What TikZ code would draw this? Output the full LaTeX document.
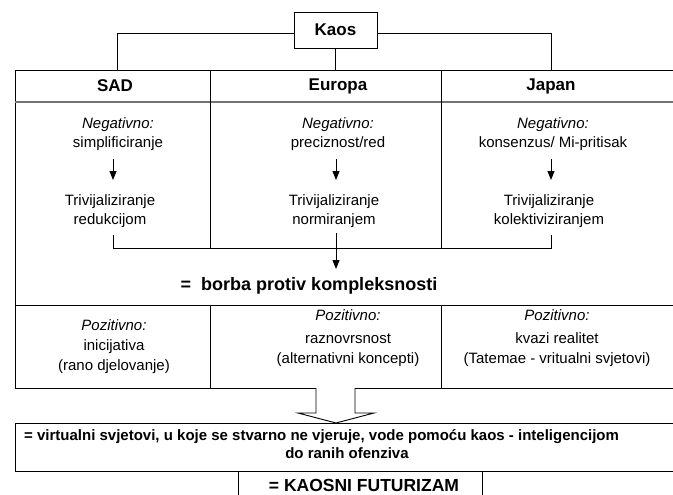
\documentclass[tikz,border=0pt]{standalone}
\usepackage{fontspec}
\setmainfont{Liberation Sans}
\usetikzlibrary{arrows.meta}
\begin{document}
\begin{tikzpicture}[x=1pt,y=-1pt,
  ln/.style={line width=0.9pt,draw=black},
  grayln/.style={line width=1.6pt,draw=black!55},
  arr/.style={line width=0.9pt,-{Triangle[length=9pt,width=7pt]}},
  txt/.style={inner sep=0pt,align=center,font=\fontsize{15}{18.5}\selectfont},
  ptxt/.style={inner sep=0pt,align=center,font=\fontsize{15}{20}\selectfont},
  hd/.style={inner sep=0pt,font=\fontsize{17}{20}\selectfont\bfseries},
  btxt/.style={inner sep=0pt,font=\fontsize{15}{18}\selectfont\bfseries},
  kbox/.style={draw,line width=0.9pt,inner sep=0pt,minimum width=83pt,minimum height=36pt,font=\fontsize{17}{20}\selectfont\bfseries}
]
\useasboundingbox (0,0) rectangle (673,495);
\fill[white] (0,0) rectangle (673,495);

% top node and connectors
\node[kbox] (kaos) at (335.5,30) {Kaos};
\coordinate (tl) at (117,33);
\coordinate (tr) at (551,33);
\coordinate (tT) at (0,70);
\draw[ln] (kaos.west |- tl) -- (tl) -- (tl |- tT);
\draw[ln] (kaos.east |- tr) -- (tr) -- (tr |- tT);
\draw[ln] (kaos.south) -- (kaos.south |- tT);

% table frame
\draw[ln] (15,70) -- (690,70);
\draw[ln] (15,70) -- (15,388) -- (690,388);
\draw[grayln] (15,102) -- (690,102);
\draw[ln] (15,305) -- (690,305);
\draw[ln] (210,70) -- (210,248);
\draw[ln] (441,70) -- (441,248);
\draw[ln] (210,305) -- (210,388);
\draw[ln] (441,305) -- (441,388);

% headers
\node[hd] (sad) at (115,86) {SAD};
\node[hd] (eur) at (338,86) {Europa};
\node[hd] (jap) at (551,86) {Japan};

% negative texts
\node[txt] (n1) at (118,134) {\textit{Negativno:}\\simplificiranje};
\node[txt] (n2) at (338,134) {\textit{Negativno:}\\preciznost/red};
\node[txt] (n3) at (553,134) {\textit{Negativno:}\\konsenzus/ Mi-pritisak};

\node[txt] (t1) at (110,211) {Trivijaliziranje\\redukcijom};
\node[txt] (t2) at (334,211) {Trivijaliziranje\\normiranjem};
\node[txt] (t3) at (549,211) {Trivijaliziranje\\kolektiviziranjem};

% small arrows
\coordinate (a1) at (113,159); \coordinate (b1) at (113,180);
\coordinate (a2) at (336,159); \coordinate (b2) at (336,180);
\coordinate (a3) at (551,159); \coordinate (b3) at (551,180);
\draw[arr] (a1) -- (b1);
\draw[arr] (a2) -- (b2);
\draw[arr] (a3) -- (b3);

% bracket and central arrow
\coordinate (k1) at (113,235);
\coordinate (k3) at (551,235);
\coordinate (kb) at (0,248);
\draw[ln] (k1) -- (k1 |- kb) -- (k3 |- kb) -- (k3);
\coordinate (c1) at (336,233);
\node[inner sep=0pt,font=\fontsize{18}{20}\selectfont\bfseries] (borba) at (309,286) {=\ \ borba protiv kompleksnosti};
\coordinate (c2) at (336,269);
\draw[arr] (c1) -- (c2);

% positive texts
\node[ptxt] (p1) at (114,347) {\textit{Pozitivno:}\\inicijativa\\(rano djelovanje)};
\node[ptxt] (p2) at (348,338) {\textit{Pozitivno:}\\[3pt]raznovrsnost\\(alternativni koncepti)};
\node[ptxt] (p3) at (557,338) {\textit{Pozitivno:}\\[3pt]kvazi realitet\\(Tatemae - vritualni svjetovi)};

% hollow arrow
\draw[ln,fill=white] (316,388) -- (316,413) -- (298,413) -- (336,423) -- (374,413) -- (355,413) -- (355,388);

% conclusion box
\draw[ln] (15,423) rectangle (690,471);
\node[btxt,anchor=west] (v1) at (24,437) {= virtualni svjetovi, u koje se stvarno ne vjeruje, vode pomoću kaos - inteligencijom};
\node[btxt] (v2) at (347,453) {do ranih ofenziva};

% final box
\draw[ln] (238,471) rectangle (482,500);
\node[inner sep=0pt,font=\fontsize{17.5}{20}\selectfont\bfseries] (fut) at (364,485) {= KAOSNI FUTURIZAM};
\end{tikzpicture}
\end{document}
